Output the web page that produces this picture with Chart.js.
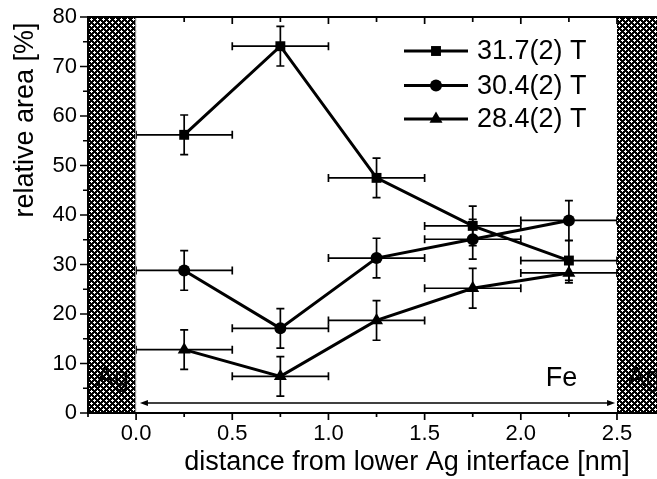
<!DOCTYPE html>
<html>
<head>
<meta charset="utf-8">
<script src="https://cdn.jsdelivr.net/npm/chart.js@4.4.0/dist/chart.umd.min.js"></script>
<style>
  html, body { margin: 0; padding: 0; background: #fff; }
  #wrap { width: 657px; height: 479px; position: relative; }
</style>
</head>
<body>
<div id="wrap"><canvas id="chart"></canvas></div>
<script>
// values
const positions = [0.25, 0.75, 1.25, 1.75, 2.25];
const posErr = [0.25, 0.25, 0.25, 0.25, 0.25];
const seriesNames = ['31.7(2) T', '30.4(2) T', '28.4(2) T'];
const area317 = [56.2, 74.1, 47.5, 37.8, 30.8];
const err317 = [4, 4, 4, 4, 4];
const area304 = [28.8, 17.1, 31.3, 35.1, 38.9];
const err304 = [4, 4, 4, 4, 4];
const area284 = [12.8, 7.4, 18.7, 25.2, 28.3];
const err284 = [4, 4, 4, 4, 2];
const xTicks = [0, 0.5, 1.0, 1.5, 2.0, 2.5];
const yTicks = [0, 10, 20, 30, 40, 50, 60, 70, 80];
const agLeft = [-0.25, 0];
const agRight = [2.5, 2.75];

const FONT = "'Liberation Sans', Arial, Helvetica, sans-serif";

// crosshatch tile for the Ag layers
function hatchPattern(ctx) {
    const c = document.createElement('canvas');
    c.width = 6; c.height = 6;
    const g = c.getContext('2d');
    g.fillStyle = '#000';
    g.fillRect(0, 0, 6, 6);
    g.fillStyle = '#fff';
    [[1,0],[0,1],[1,1],[2,1],[1,2],[4,3],[3,4],[4,4],[5,4],[4,5]].forEach(p => g.fillRect(p[0], p[1], 1, 1));
    return ctx.createPattern(c, 'repeat');
}

function marker(ctx, style, x, y, r) {
    ctx.beginPath();
    if (style === 'rect') {
        const s = Math.SQRT1_2 * r;
        ctx.rect(x - s, y - s, 2 * s, 2 * s);
    } else if (style === 'circle') {
        ctx.arc(x, y, r, 0, Math.PI * 2);
    } else {
        for (let k = 0; k < 3; k++) {
            const a = k * 2 * Math.PI / 3;
            const px = x + Math.sin(a) * r, py = y - Math.cos(a) * r;
            if (k === 0) ctx.moveTo(px, py); else ctx.lineTo(px, py);
        }
        ctx.closePath();
    }
    ctx.fill();
}

const makeSet = (name, vals, errs, style, r) => ({
    label: name,
    data: positions.map((x, i) => ({ x: x, y: vals[i] })),
    yErr: errs,
    showLine: true,
    borderColor: '#000',
    borderWidth: 3,
    backgroundColor: '#000',
    pointStyle: style,
    pointRadius: r,
    pointBackgroundColor: '#000',
    pointBorderColor: '#000',
    pointBorderWidth: 0
});

const noPad = s => { s.paddingLeft = 0; s.paddingRight = 0; s.paddingTop = 0; s.paddingBottom = 0; };

const decor = {
    id: 'decor',
    beforeDatasetsDraw(chart) {
        const ctx = chart.ctx, xs = chart.scales.x, ys = chart.scales.y, a = chart.chartArea;
        ctx.save();
        ctx.strokeStyle = '#000';
        ctx.lineWidth = 1.7;
        // error bars
        chart.data.datasets.forEach(ds => {
            ds.data.forEach((p, i) => {
                const px = xs.getPixelForValue(p.x), py = ys.getPixelForValue(p.y);
                const y1 = ys.getPixelForValue(p.y + ds.yErr[i]), y2 = ys.getPixelForValue(p.y - ds.yErr[i]);
                const x1 = xs.getPixelForValue(p.x - posErr[i]), x2 = xs.getPixelForValue(p.x + posErr[i]);
                ctx.beginPath();
                ctx.moveTo(px, y1); ctx.lineTo(px, y2);
                ctx.moveTo(px - 4, y1); ctx.lineTo(px + 4, y1);
                ctx.moveTo(px - 4, y2); ctx.lineTo(px + 4, y2);
                ctx.moveTo(x1, py); ctx.lineTo(x2, py);
                ctx.moveTo(x1, py - 4); ctx.lineTo(x1, py + 4);
                ctx.moveTo(x2, py - 4); ctx.lineTo(x2, py + 4);
                ctx.stroke();
            });
        });
        // Ag layers
        ctx.fillStyle = hatchPattern(ctx);
        [agLeft, agRight].forEach(r => {
            const l = Math.max(a.left, xs.getPixelForValue(r[0]));
            const rr = Math.min(a.right, xs.getPixelForValue(r[1]));
            ctx.fillRect(l, a.top, rr - l, a.bottom - a.top);
        });
        ctx.strokeStyle = '#999';
        ctx.lineWidth = 1;
        ctx.beginPath();
        ctx.moveTo(xs.getPixelForValue(agLeft[1]) - 0.5, a.top);
        ctx.lineTo(xs.getPixelForValue(agLeft[1]) - 0.5, a.bottom);
        ctx.stroke();
        ctx.restore();
    },
    afterDraw(chart) {
        const ctx = chart.ctx, xs = chart.scales.x, ys = chart.scales.y, a = chart.chartArea;
        ctx.save();
        ctx.strokeStyle = '#000';
        ctx.fillStyle = '#000';
        // frame
        ctx.lineWidth = 2;
        ctx.beginPath();
        ctx.moveTo(a.right, a.top); ctx.lineTo(a.left, a.top);
        ctx.lineTo(a.left, a.bottom); ctx.lineTo(a.right, a.bottom);
        ctx.stroke();
        // tick marks
        ctx.lineWidth = 1.7;
        ctx.beginPath();
        for (let v = 0; v <= 80; v += 5) {
            const py = ys.getPixelForValue(v), len = v % 10 === 0 ? 8 : 5;
            ctx.moveTo(a.left, py); ctx.lineTo(a.left - len, py);
        }
        for (let v = -0.25; v <= 2.51; v += 0.25) {
            const px = xs.getPixelForValue(v);
            const major = Math.abs(v * 2 - Math.round(v * 2)) < 1e-6;
            ctx.moveTo(px, a.bottom); ctx.lineTo(px, a.bottom + (major ? 7 : 4));
            if (v > 0.1) { ctx.moveTo(px, a.top); ctx.lineTo(px, a.top + (major ? 7 : 5)); }
        }
        ctx.stroke();
        // Fe thickness arrow
        const ay = ys.getPixelForValue(2);
        const ax1 = xs.getPixelForValue(0.02), ax2 = xs.getPixelForValue(2.49);
        ctx.lineWidth = 1.5;
        ctx.beginPath();
        ctx.moveTo(ax1 + 5, ay); ctx.lineTo(ax2 - 5, ay);
        ctx.stroke();
        ctx.beginPath();
        ctx.moveTo(ax1, ay); ctx.lineTo(ax1 + 8, ay - 3); ctx.lineTo(ax1 + 8, ay + 3); ctx.closePath();
        ctx.moveTo(ax2, ay); ctx.lineTo(ax2 - 8, ay - 3); ctx.lineTo(ax2 - 8, ay + 3); ctx.closePath();
        ctx.fill();
        // layer labels
        ctx.font = '27px ' + FONT;
        ctx.textBaseline = 'alphabetic';
        ctx.textAlign = 'left';
        const ly = ys.getPixelForValue(5.5);
        ctx.fillText('Ag', xs.getPixelForValue(-0.208), ly);
        ctx.fillText('Fe', xs.getPixelForValue(2.13), ly);
        ctx.fillText('Ag', xs.getPixelForValue(2.555), ly);
        // legend
        const rows = [a.top + 34, a.top + 68.5, a.top + 102];
        chart.data.datasets.forEach((ds, i) => {
            const cy = rows[i];
            ctx.lineWidth = 3;
            ctx.beginPath();
            ctx.moveTo(404, cy); ctx.lineTo(468, cy);
            ctx.stroke();
            marker(ctx, ds.pointStyle, 436, cy, ds.pointRadius);
            ctx.textBaseline = 'middle';
            ctx.fillText(seriesNames[i], 477, cy + 1);
        });
        // axis titles
        ctx.textAlign = 'center';
        ctx.textBaseline = 'alphabetic';
        ctx.fillText('distance from lower Ag interface [nm]', a.left + 319, 470);
        ctx.translate(33, 120);
        ctx.rotate(-Math.PI / 2);
        ctx.fillText('relative area [%]', 0, 0);
        ctx.restore();
    }
};

new Chart(document.getElementById('chart'), {
    type: 'scatter',
    data: {
        datasets: [
            makeSet(seriesNames[0], area317, err317, 'rect', 7),
            makeSet(seriesNames[1], area304, err304, 'circle', 6),
            makeSet(seriesNames[2], area284, err284, 'triangle', 7.5)
        ]
    },
    options: {
        responsive: true,
        maintainAspectRatio: false,
        animation: false,
        layout: { autoPadding: false, padding: { top: 17, right: 0, left: 0, bottom: 0 } },
        plugins: { legend: { display: false }, tooltip: { enabled: false } },
        scales: {
            x: {
                type: 'linear', min: -0.25, max: 2.708,
                grid: { display: false, drawTicks: false },
                border: { display: false },
                afterBuildTicks: s => { s.ticks = xTicks.map(v => ({ value: v })); },
                afterFit: s => { s.height = 66; noPad(s); },
                ticks: { font: { family: FONT, size: 22 }, color: '#000', padding: 8, maxRotation: 0, autoSkip: false,
                         callback: v => Number(v).toFixed(1) }
            },
            y: {
                min: 0, max: 80,
                grid: { display: false, drawTicks: false },
                border: { display: false },
                afterBuildTicks: s => { s.ticks = yTicks.map(v => ({ value: v })); },
                afterFit: s => { s.width = 88; noPad(s); },
                ticks: { font: { family: FONT, size: 22 }, color: '#000', padding: 11 }
            }
        }
    },
    plugins: [decor]
});
</script>
</body>
</html>
